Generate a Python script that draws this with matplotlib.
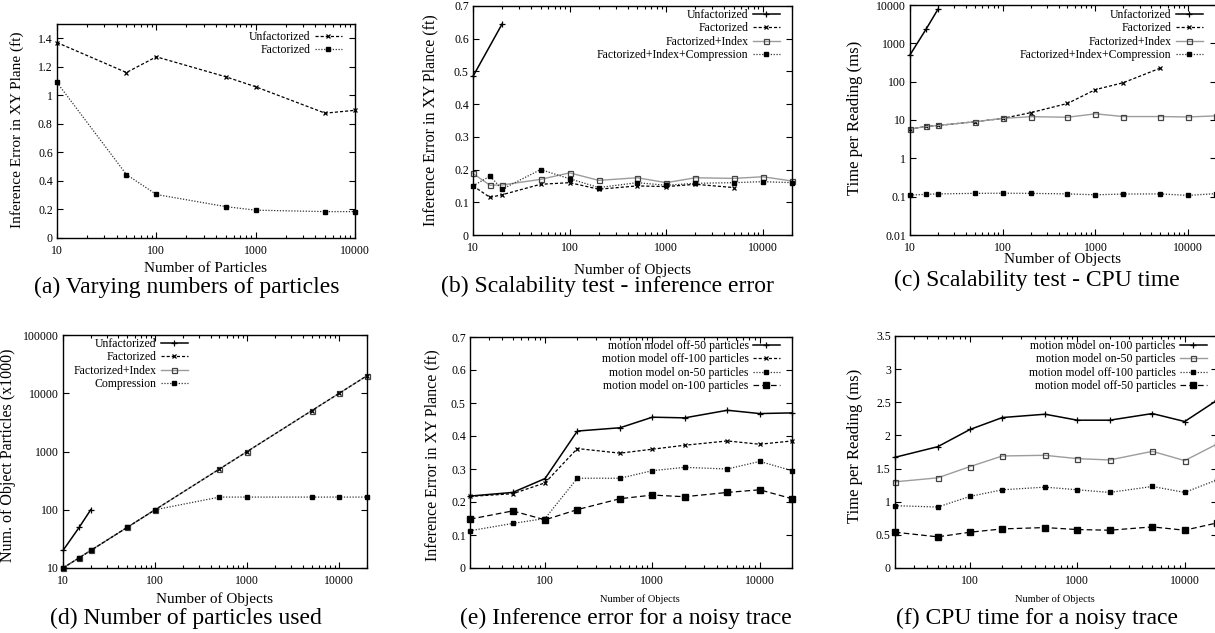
import matplotlib
matplotlib.use('Agg')
import matplotlib.pyplot as plt
from matplotlib.ticker import NullFormatter, NullLocator

plt.rcParams['font.family'] = ['Liberation Serif', 'DejaVu Serif']

# ---- data ----
# (a) varying numbers of particles
a_particles = [10, 50, 100, 500, 1000, 5000, 10000]
a_unfact = [1.37, 1.16, 1.27, 1.13, 1.06, 0.875, 0.895]
a_fact = [1.09, 0.445, 0.305, 0.22, 0.195, 0.185, 0.185]

# (b) scalability - inference error
b_objects = [10, 15, 20, 50, 100, 200, 500, 1000, 2000, 5000, 10000, 20000]
b_unfact_x = [10, 20]
b_unfact = [0.485, 0.645]
b_fact = [0.15, 0.115, 0.123, 0.155, 0.16, 0.14, 0.15, 0.148, 0.155, 0.145]
b_index = [0.188, 0.152, 0.153, 0.17, 0.19, 0.167, 0.175, 0.16, 0.175, 0.173, 0.178, 0.165]
b_comp = [0.15, 0.18, 0.14, 0.2, 0.172, 0.145, 0.16, 0.152, 0.158, 0.16, 0.163, 0.16]

# (c) scalability - cpu time
c_objects = b_objects
c_unfact_x = [10, 15, 20]
c_unfact = [500, 2400, 7700]
c_fact = [5.8, 6.8, 7.2, 9, 11, 15.5, 27, 62, 94, 225]
c_index = [5.8, 6.8, 7.2, 9, 11, 12.2, 11.8, 14.5, 12.3, 12.3, 12, 12.8]
c_comp = [0.11, 0.115, 0.118, 0.122, 0.123, 0.122, 0.118, 0.112, 0.117, 0.118, 0.108, 0.12]

# (d) number of particles used
d_objects = [10, 15, 20, 50, 100, 500, 1000, 5000, 10000, 20000]
d_unfact_x = [10, 15, 20]
d_unfact = [20, 50, 100]
d_fact = [10, 15, 20, 50, 100, 500, 1000, 5000, 10000, 20000]
d_index = [10, 15, 20, 50, 100, 500, 1000, 5000, 10000, 20000]
d_comp = [10, 15, 20, 50, 100, 165, 165, 165, 165, 165]

# (e) inference error, noisy trace
noisy_objects = [20, 50, 100, 200, 500, 1000, 2000, 5000, 10000, 20000]
e_off50 = [0.218, 0.229, 0.271, 0.415, 0.425, 0.457, 0.455, 0.478, 0.468, 0.47]
e_off100 = [0.217, 0.225, 0.258, 0.362, 0.348, 0.36, 0.372, 0.385, 0.375, 0.385]
e_on50 = [0.113, 0.135, 0.15, 0.272, 0.272, 0.295, 0.305, 0.3, 0.323, 0.295]
e_on100 = [0.148, 0.173, 0.146, 0.177, 0.21, 0.221, 0.216, 0.229, 0.237, 0.21]

# (f) cpu time, noisy trace
f_on100 = [1.67, 1.83, 2.09, 2.27, 2.32, 2.23, 2.23, 2.33, 2.21, 2.53]
f_on50 = [1.30, 1.36, 1.53, 1.69, 1.70, 1.65, 1.63, 1.76, 1.62, 1.87]
f_off100 = [0.94, 0.92, 1.08, 1.18, 1.22, 1.18, 1.14, 1.23, 1.14, 1.33]
f_off50 = [0.54, 0.47, 0.54, 0.59, 0.61, 0.58, 0.57, 0.62, 0.57, 0.68]

log_ticks = [10, 100, 1000, 10000]
log_labels = ['10', '100', '1000', '10000']
a_yticks = [0, 0.2, 0.4, 0.6, 0.8, 1.0, 1.2, 1.4]
a_ylabels = ['0', '0.2', '0.4', '0.6', '0.8', '1', '1.2', '1.4']
err_yticks = [0, 0.1, 0.2, 0.3, 0.4, 0.5, 0.6, 0.7]
err_ylabels = ['0', '0.1', '0.2', '0.3', '0.4', '0.5', '0.6', '0.7']
c_yticks = [0.01, 0.1, 1, 10, 100, 1000, 10000]
c_ylabels = ['0.01', '0.1', '1', '10', '100', '1000', '10000']
d_yticks = [10, 100, 1000, 10000, 100000]
d_ylabels = ['10', '100', '1000', '10000', '100000']
f_yticks = [0, 0.5, 1, 1.5, 2, 2.5, 3, 3.5]
f_ylabels = ['0', '0.5', '1', '1.5', '2', '2.5', '3', '3.5']

# ---- styles (gnuplot-like) ----
W, H = 1215, 633
solid_plus = dict(color='black', ls='-', lw=1.1, marker='+', ms=4.5, mew=0.9)
dash_x = dict(color='black', ls=(0, (2.5, 1.6)), lw=0.9, marker='x', ms=3.2, mew=0.9)
gray_sq = dict(color='#9c9c9c', ls='-', lw=1.0, marker='s', ms=3.6, mfc='none',
               mec='#444444', mew=0.9)
dot_sq = dict(color='#333333', ls=(0, (1, 1.3)), lw=0.9, marker='s', ms=2.6,
              mfc='black', mec='black')
long_sq = dict(color='black', ls=(0, (4.5, 2.5)), lw=0.9, marker='s', ms=4.2,
               mfc='black', mec='black')

fig = plt.figure(figsize=(W / 100, H / 100), dpi=100)


def px_axes(l, t, r, b):
    # axes rectangle given in pixel coordinates of the reference
    return fig.add_axes([l / W, 1 - b / H, (r - l) / W, (b - t) / H])


def px_text(x, y, s, **kw):
    fig.text(x / W, 1 - y / H, s, ha='center', va='center', **kw)


def style_axes(ax, xlog=True):
    ax.tick_params(which='both', direction='in', top=True, right=True,
                   labelsize=8.5, width=0.8)
    ax.tick_params(which='major', length=4)
    ax.tick_params(which='minor', length=2)
    ax.tick_params(axis='x', pad=5)
    ax.tick_params(axis='y', pad=3)
    for sp in ax.spines.values():
        sp.set_linewidth(1.0)
    if xlog:
        ax.set_xscale('log')
        ax.set_xticks(log_ticks)
        ax.set_xticklabels(log_labels)
        ax.xaxis.set_minor_formatter(NullFormatter())


def add_legend(ax, xr, yt):
    ax.legend(loc='upper right', bbox_to_anchor=(xr / W, 1 - yt / H),
              bbox_transform=fig.transFigure, frameon=False, markerfirst=False,
              fontsize=8.5, handlelength=2.3, handletextpad=0.35,
              labelspacing=0.12, borderpad=0, borderaxespad=0)


def plot(ax, x, y, st, label, z=2):
    ax.plot(x, y, label=label, clip_on=False, zorder=z, **st)


# (a)
ax = px_axes(57, 24, 355, 238)
plot(ax, a_particles, a_unfact, dash_x, 'Unfactorized')
plot(ax, a_particles, a_fact, dot_sq, 'Factorized')
style_axes(ax)
ax.set_xlim(10, 10000)
ax.set_ylim(0, 1.5)
ax.set_yticks(a_yticks)
ax.set_yticklabels(a_ylabels)
add_legend(ax, 342, 31)
px_text(17, 130, 'Inference Error in XY Plane (ft)', rotation=90, fontsize=11)
px_text(206, 268, 'Number of Particles', fontsize=11)
px_text(187, 287, '(a) Varying numbers of particles', fontsize=17)

# (b)
ax = px_axes(473, 6, 792, 235)
plot(ax, b_unfact_x, b_unfact, solid_plus, 'Unfactorized')
plot(ax, b_objects[:len(b_fact)], b_fact, dash_x, 'Factorized')
plot(ax, b_objects, b_index, gray_sq, 'Factorized+Index')
plot(ax, b_objects, b_comp, dot_sq, 'Factorized+Index+Compression')
style_axes(ax)
ax.set_xlim(10, 20000)
ax.set_ylim(0, 0.7)
ax.set_yticks(err_yticks)
ax.set_yticklabels(err_ylabels)
add_legend(ax, 780, 9)
px_text(430, 120, 'Inference Error in XY Plance (ft)', rotation=90, fontsize=11.5)
px_text(632, 270, 'Number of Objects', fontsize=11)
px_text(607, 286, '(b) Scalability test - inference error', fontsize=17)

# (c)
ax = px_axes(910, 5, 1216, 235)
plot(ax, c_unfact_x, c_unfact, solid_plus, 'Unfactorized')
plot(ax, c_objects[:len(c_fact)], c_fact, dash_x, 'Factorized')
plot(ax, c_objects, c_index, gray_sq, 'Factorized+Index')
plot(ax, c_objects, c_comp, dot_sq, 'Factorized+Index+Compression')
style_axes(ax)
ax.set_yscale('log')
ax.set_xlim(10, 20000)
ax.set_ylim(0.01, 10000)
ax.set_yticks(c_yticks)
ax.set_yticklabels(c_ylabels)
ax.yaxis.set_minor_locator(NullLocator())
add_legend(ax, 1203, 9)
px_text(855, 118, 'Time per Reading (ms)', rotation=90, fontsize=12)
px_text(1063, 259, 'Number of Objects', fontsize=11)
px_text(1037, 280, '(c) Scalability test - CPU time', fontsize=17)

# (d)
ax = px_axes(63, 335, 367, 568)
plot(ax, d_unfact_x, d_unfact, solid_plus, 'Unfactorized')
plot(ax, d_objects, d_fact, dash_x, 'Factorized', z=3)
plot(ax, d_objects, d_index, gray_sq, 'Factorized+Index')
plot(ax, d_objects, d_comp, dot_sq, 'Compression')
style_axes(ax)
ax.set_yscale('log')
ax.set_xlim(10, 20000)
ax.set_ylim(10, 100000)
ax.set_yticks(d_yticks)
ax.set_yticklabels(d_ylabels)
ax.yaxis.set_minor_locator(NullLocator())
add_legend(ax, 188, 338)
px_text(8, 455, 'Num. of Object Particles (x1000)', rotation=90, fontsize=11.5)
px_text(214, 599, 'Number of Objects', fontsize=11)
px_text(186, 618, '(d) Number of particles used', fontsize=17)

# (e)
ax = px_axes(470, 337, 792, 568)
plot(ax, noisy_objects, e_off50, solid_plus, 'motion model off-50 particles')
plot(ax, noisy_objects, e_off100, dash_x, 'motion model off-100 particles')
plot(ax, noisy_objects, e_on50, dot_sq, 'motion model on-50 particles')
plot(ax, noisy_objects, e_on100, long_sq, 'motion model on-100 particles')
style_axes(ax)
ax.set_xlim(20, 20000)
ax.set_ylim(0, 0.7)
ax.set_yticks(err_yticks)
ax.set_yticklabels(err_ylabels)
add_legend(ax, 780, 340)
px_text(432, 455, 'Inference Error in XY Plance (ft)', rotation=90, fontsize=11.5)
px_text(640, 599, 'Number of Objects', fontsize=7.5)
px_text(626, 618, '(e) Inference error for a noisy trace', fontsize=17)

# (f)
ax = px_axes(895, 336, 1217, 568)
plot(ax, noisy_objects, f_on100, solid_plus, 'motion model on-100 particles')
plot(ax, noisy_objects, f_on50, gray_sq, 'motion model on-50 particles')
plot(ax, noisy_objects, f_off100, dot_sq, 'motion model off-100 particles')
plot(ax, noisy_objects, f_off50, long_sq, 'motion model off-50 particles')
style_axes(ax)
ax.set_xlim(20, 20000)
ax.set_ylim(0, 3.5)
ax.set_yticks(f_yticks)
ax.set_yticklabels(f_ylabels)
add_legend(ax, 1207, 340)
px_text(855, 446, 'Time per Reading (ms)', rotation=90, fontsize=12)
px_text(1055, 599, 'Number of Objects', fontsize=7.5)
px_text(1037, 618, '(f) CPU time for a noisy trace', fontsize=17)

fig.savefig('out.png', dpi=100)
